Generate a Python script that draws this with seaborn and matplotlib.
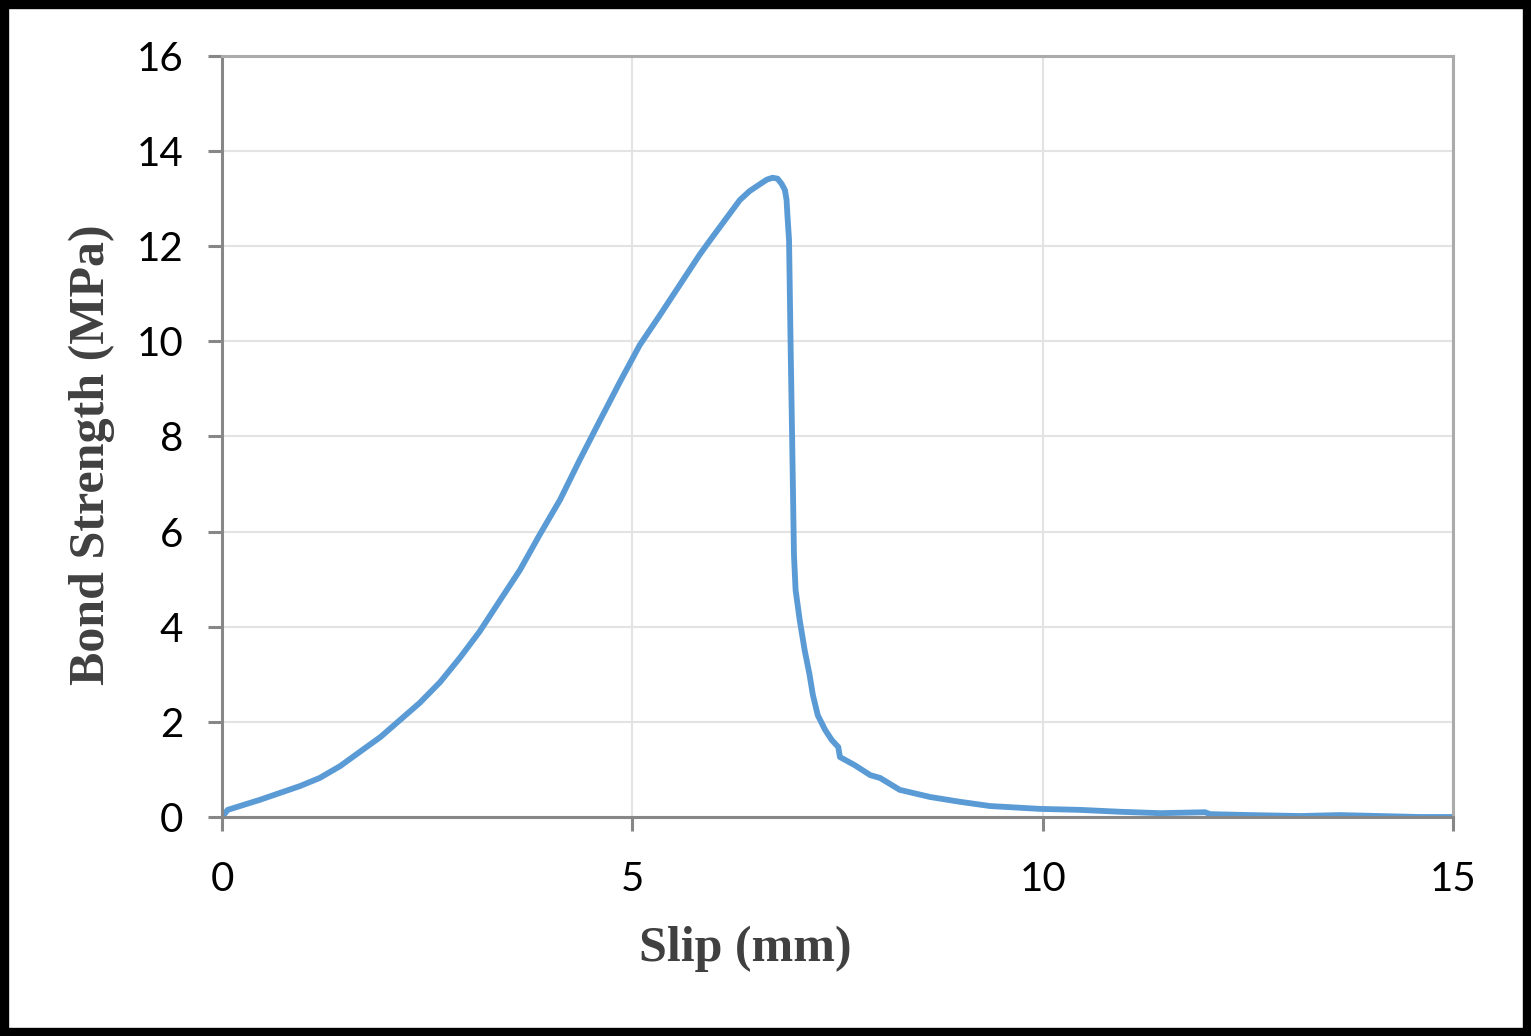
import matplotlib
matplotlib.use("Agg")
import matplotlib.pyplot as plt
from matplotlib.patches import Rectangle
import seaborn as sns
import pandas as pd

# Slip (mm) vs bond strength (MPa)
slip = [0.0, 0.07, 0.46, 0.95, 1.19, 1.44, 1.68, 1.93, 2.17, 2.41, 2.66, 2.90,
        3.14, 3.39, 3.63, 3.87, 4.12, 4.36, 4.61, 4.85, 5.09, 5.34, 5.58, 5.82,
        5.95, 6.07, 6.31, 6.43, 6.56, 6.64, 6.71, 6.77, 6.82, 6.86, 6.88, 6.89,
        6.91, 6.93, 6.95, 6.97, 6.99, 7.04, 7.10, 7.16, 7.20, 7.26, 7.35, 7.43,
        7.51, 7.53, 7.71, 7.90, 8.02, 8.26, 8.63, 8.99, 9.36, 9.97, 10.45,
        10.94, 11.43, 11.98, 12.04, 12.53, 13.14, 13.62, 14.10, 14.59, 15.0]
bond = [0.0, 0.15, 0.36, 0.65, 0.82, 1.07, 1.37, 1.68, 2.04, 2.40, 2.84, 3.35,
        3.90, 4.56, 5.19, 5.93, 6.67, 7.51, 8.35, 9.15, 9.92, 10.56, 11.19,
        11.82, 12.13, 12.41, 12.97, 13.16, 13.31, 13.40, 13.44, 13.42, 13.31,
        13.18, 12.97, 12.66, 12.13, 9.82, 7.72, 5.51, 4.77, 4.14, 3.51, 2.99,
        2.57, 2.14, 1.83, 1.62, 1.47, 1.26, 1.09, 0.88, 0.82, 0.57, 0.42, 0.32,
        0.23, 0.17, 0.15, 0.11, 0.08, 0.10, 0.06, 0.04, 0.02, 0.04, 0.02, 0.0,
        0.0]
x_ticks = [0, 5, 10, 15]
y_ticks = [0, 2, 4, 6, 8, 10, 12, 14, 16]

df = pd.DataFrame({"slip": slip, "bond": bond})

sns.set_style("white")
plt.rcParams["font.family"] = ["Lato", "DejaVu Sans"]

fig = plt.figure(figsize=(15.31, 10.36), dpi=100)
ax = fig.add_axes([0.145, 0.2114, 0.804, 0.7346])

sns.lineplot(data=df, x="slip", y="bond", sort=False, color="#5b9bd5",
             linewidth=4.2, ax=ax)

ax.set_xlim(0, 15)
ax.set_ylim(0, 16)
ax.set_xticks(x_ticks)
ax.set_yticks(y_ticks)
ax.grid(True, color="#e3e3e3", linewidth=1.5)
ax.set_axisbelow(True)

for side in ["left", "bottom"]:
    ax.spines[side].set_color("#878787")
    ax.spines[side].set_linewidth(2.2)
for side in ["top", "right"]:
    ax.spines[side].set_color("#ababab")
    ax.spines[side].set_linewidth(2.2)

ax.tick_params(axis="both", direction="out", length=10, width=2.2,
               color="#878787", labelsize=29, labelcolor="black")
ax.tick_params(axis="x", pad=22)
ax.tick_params(axis="y", pad=18)
ax.tick_params(axis="both", left=True, bottom=True)

ax.set_xlabel("Slip (mm)", family="Liberation Serif", fontweight="bold",
              fontsize=36, color="#404040")
ax.set_ylabel("Bond Strength (MPa)", family="Liberation Serif", fontweight="bold",
              fontsize=36, color="#404040")
# labels sit off-centre in the original
ax.xaxis.set_label_coords(0.425, -0.143)
ax.yaxis.set_label_coords(-0.087, 0.476)

# black frame round the whole figure
fig.patches.append(Rectangle((0, 0), 1, 1, transform=fig.transFigure,
                             fill=False, edgecolor="black", linewidth=12.5))

fig.savefig("out.png", dpi=100)
plt.close(fig)
